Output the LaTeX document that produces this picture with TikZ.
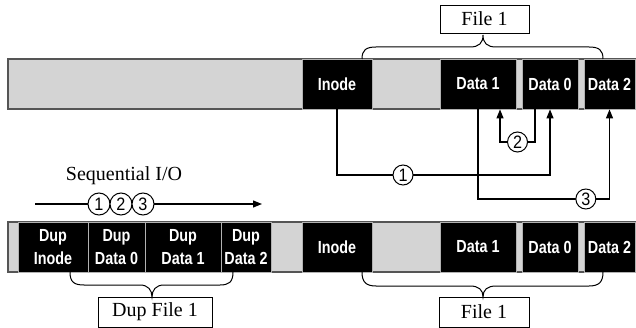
\documentclass[tikz,border=0pt]{standalone}
\usepackage{fontspec}
\setmainfont{Liberation Serif}
\newfontfamily\cellfont[FakeStretch=0.82]{Liberation Sans}
\newfontfamily\digfont[FakeStretch=0.9]{Liberation Sans}
\usetikzlibrary{arrows.meta,calc}
\definecolor{bargrey}{HTML}{D4D4D4}
\definecolor{edgegrey}{HTML}{555555}
\begin{document}
\begin{tikzpicture}[x=1pt,y=-1pt,
  bar/.style={draw=edgegrey, fill=bargrey, line width=1.2pt, inner sep=0pt, minimum height=50pt},
  cell/.style={draw=gray!60, fill=black, line width=0.8pt, text=white, inner sep=0pt,
    minimum height=50pt, align=center,
    font=\cellfont\bfseries\fontsize{17.5}{23}\selectfont},
  conn/.style={line width=1.2pt, draw=black},
  arr/.style={conn, -{Triangle[length=9pt,width=7pt]}},
  circ/.style={circle, draw=black, line width=1pt, fill=white, inner sep=0pt,
    minimum size=20pt, font=\digfont\fontsize{18}{18}\selectfont},
  lbl/.style={draw=black, line width=0.8pt, fill=white, inner sep=0pt,
    font=\fontsize{20}{22}\selectfont},
  brace/.style={line width=1pt, draw=black}
]
\useasboundingbox (0,0) rectangle (636,328);

% ---- top bar ----
\node[bar, minimum width=627pt] (barT) at (321.5,84) {};
\node[cell, minimum width=70pt] (inodeT) at (337,84) {Inode};
\node[cell, minimum width=76pt] (d1T) at (478,84) {Data 1};
\node[cell, minimum width=56pt] (d0T) at (550,84) {Data 0};
\node[cell, minimum width=51pt] (d2T) at (609.5,84) {Data 2};

% ---- bottom bar ----
\node[bar, minimum width=627pt] (barB) at (321.5,247) {};
\node[cell, minimum width=70pt] (dupI) at (53,247) {Dup\\Inode};
\node[cell, minimum width=57pt] (dupD0) at (116.5,247) {Dup\\Data 0};
\node[cell, minimum width=76pt] (dupD1) at (183,247) {Dup\\Data 1};
\node[cell, minimum width=50pt] (dupD2) at (246,247) {Dup\\Data 2};
\node[cell, minimum width=70pt] (inodeB) at (337,247) {Inode};
\node[cell, minimum width=76pt] (d1B) at (478,247) {Data 1};
\node[cell, minimum width=56pt] (d0B) at (550,247) {Data 0};
\node[cell, minimum width=51pt] (d2B) at (609.5,247) {Data 2};

% ---- labels ----
\node[lbl, minimum width=89pt, minimum height=28pt] (f1T) at (484.5,19) {File 1};
\node[lbl, minimum width=114pt, minimum height=30pt] (dupF) at (155,312) {Dup File 1};
\node[lbl, minimum width=90pt, minimum height=30pt] (f1B) at (484,312) {File 1};

% ---- braces ----
\draw[brace] (362,59) .. controls (362,50) and (366,47) .. (376,47) -- (470,47)
  .. controls (479,47) and (483,43) .. (483,35)
  .. controls (483,43) and (487,47) .. (496,47) -- (589,47)
  .. controls (599,47) and (603,50) .. (603,59);
\draw[brace] (362,272) .. controls (362,282) and (366,286) .. (376,286) -- (470,286)
  .. controls (479,286) and (483,290) .. (483,297)
  .. controls (483,290) and (487,286) .. (496,286) -- (589,286)
  .. controls (599,286) and (603,282) .. (603,272);
\draw[brace] (70,272) .. controls (70,282) and (74,285) .. (84,285) -- (140,285)
  .. controls (148,285) and (152,290) .. (152,297)
  .. controls (152,290) and (156,285) .. (164,285) -- (220,285)
  .. controls (229,285) and (233,282) .. (233,272);

% ---- connectors ----
\coordinate (r1) at (0,175);
\coordinate (r2) at (0,142);
\coordinate (r3) at (0,199);
\coordinate (d0a) at ($(d0T.south)+(-15,0)$);
\coordinate (d1a) at ($(d1T.south)+(22,0)$);

\draw[arr] (inodeT.south) -- (inodeT.south |- r1)
  -- node[circ, pos=0.31] (c1) {1} (d0T.south |- r1) -- (d0T.south);
\draw[arr] (d0a) -- (d0a |- r2)
  -- node[circ, pos=0.5] (c2) {2} (d1a |- r2) -- (d1a);
\draw[arr] (d1T.south) -- (d1T.south |- r3)
  -- node[circ, pos=0.82] (c3) {3} (d2T.south |- r3) -- (d2T.south);

% ---- sequential I/O ----
\node[font=\fontsize{20}{22}\selectfont] (seq) at (124,176) {Sequential I/O};
\coordinate (sqs) at (35,204);
\coordinate (sqe) at (262,204);
\draw[arr] (sqs) -- (sqe);
\node[circ, minimum size=22pt] (s1) at (99,204) {1};
\node[circ, minimum size=22pt] (s2) at (121,204) {2};
\node[circ, minimum size=22pt] (s3) at (143,204) {3};
\end{tikzpicture}
\end{document}
